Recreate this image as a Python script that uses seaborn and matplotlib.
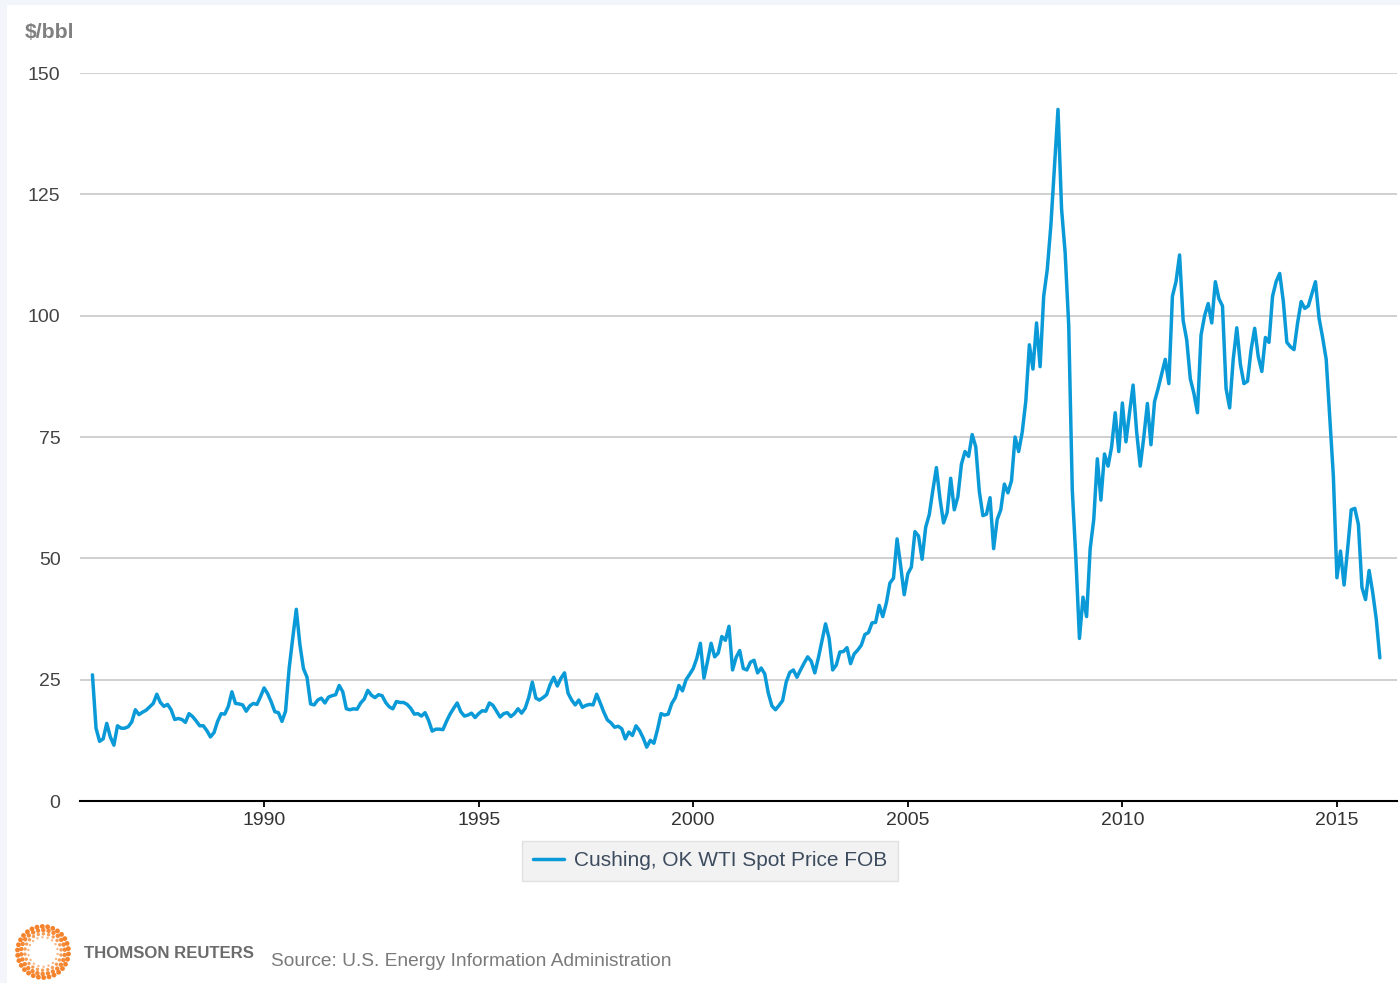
import numpy as np
import pandas as pd
import matplotlib
matplotlib.use("Agg")
import matplotlib.pyplot as plt
from matplotlib.patches import Rectangle
import seaborn as sns

# WTI spot price, $/bbl, one value per month (start of month), Jan 1986 .. Jan 2016
wti_1986_1990 = [
    26.0, 15.0, 12.3, 12.8, 16.0, 13.2, 11.5, 15.5, 15.0, 15.0, 15.3, 16.3,
    18.8, 17.8, 18.3, 18.7, 19.4, 20.1, 22.0, 20.3, 19.5, 19.9, 18.8, 16.8,
    17.0, 16.8, 16.2, 18.0, 17.4, 16.5, 15.5, 15.5, 14.5, 13.2, 14.1, 16.4,
    18.0, 17.9, 19.5, 22.5, 20.1, 20.0, 19.8, 18.5, 19.6, 20.1, 19.9, 21.5,
    23.3, 22.1, 20.4, 18.4, 18.2, 16.4, 18.5, 27.3, 33.5, 39.5, 32.3, 27.3,
]
wti_1991_1995 = [
    25.5, 20.0, 19.8, 20.8, 21.2, 20.2, 21.4, 21.7, 21.9, 23.8, 22.5, 19.0,
    18.8, 19.0, 18.9, 20.2, 21.0, 22.8, 21.8, 21.3, 21.9, 21.7, 20.3, 19.4,
    19.0, 20.5, 20.3, 20.3, 19.9, 19.1, 17.9, 18.0, 17.5, 18.2, 16.6, 14.4,
    14.8, 14.8, 14.7, 16.4, 17.9, 19.1, 20.2, 18.4, 17.5, 17.7, 18.1, 17.2,
    18.0, 18.6, 18.5, 20.2, 19.7, 18.5, 17.3, 18.0, 18.2, 17.4, 18.0, 19.0,
]
wti_1996_2000 = [
    18.1, 19.1, 21.3, 24.5, 21.2, 20.8, 21.3, 21.9, 24.0, 25.5, 23.7, 25.3,
    26.4, 22.2, 20.8, 19.8, 20.8, 19.3, 19.7, 19.9, 19.8, 22.0, 20.2, 18.3,
    16.7, 16.1, 15.2, 15.4, 14.9, 12.8, 14.2, 13.5, 15.5, 14.5, 13.0, 11.1,
    12.5, 11.9, 14.7, 18.0, 17.7, 17.9, 20.1, 21.3, 23.8, 22.7, 25.0, 26.1,
    27.3, 29.4, 32.5, 25.3, 28.8, 32.5, 29.7, 30.5, 33.9, 33.1, 36.0, 27.0,
]
wti_2001_2005 = [
    29.6, 31.0, 27.3, 27.0, 28.6, 29.0, 26.4, 27.4, 26.2, 22.2, 19.6, 18.8,
    19.7, 20.7, 24.5, 26.5, 27.0, 25.5, 27.0, 28.4, 29.7, 28.8, 26.4, 29.5,
    33.0, 36.5, 33.5, 27.0, 28.0, 30.7, 30.8, 31.6, 28.3, 30.3, 31.1, 32.1,
    34.3, 34.7, 36.7, 36.8, 40.3, 38.0, 40.8, 44.9, 45.9, 54.0, 48.5, 42.5,
    46.8, 48.2, 55.5, 54.6, 49.8, 56.4, 59.0, 64.0, 68.7, 62.3, 57.3, 59.4,
]
wti_2006_2010 = [
    66.5, 60.0, 62.7, 69.4, 72.0, 71.0, 75.5, 73.0, 63.8, 58.8, 59.1, 62.5,
    52.0, 58.0, 60.0, 65.3, 63.5, 66.0, 75.0, 72.0, 76.0, 82.4, 94.0, 89.0,
    98.5, 89.5, 104.0, 109.5, 118.5, 130.5, 142.5, 122.0, 113.0, 98.0, 64.0, 50.0,
    33.5, 42.0, 38.0, 52.0, 58.0, 70.5, 62.0, 71.5, 69.0, 73.0, 80.0, 72.0,
    82.0, 74.0, 80.0, 85.7, 76.0, 69.0, 75.0, 81.9, 73.4, 82.3, 85.0, 88.0,
]
wti_2011_2016 = [
    91.0, 86.0, 104.0, 107.0, 112.5, 99.0, 95.0, 87.0, 84.0, 80.0, 96.0, 100.0,
    102.5, 98.5, 107.0, 103.5, 102.0, 85.0, 81.0, 91.0, 97.5, 90.0, 86.0, 86.5,
    93.0, 97.4, 91.6, 88.5, 95.5, 94.5, 104.0, 107.0, 108.7, 103.0, 94.5, 93.6,
    93.0, 98.5, 102.9, 101.5, 102.0, 104.5, 107.0, 99.5, 95.5, 91.0, 79.0, 67.0,
    46.0, 51.5, 44.5, 52.0, 60.0, 60.3, 57.0, 44.0, 41.5, 47.5, 43.0, 37.5,
    29.5,
]

year_ticks = [1990, 1995, 2000, 2005, 2010, 2015]
price_ticks = [0, 25, 50, 75, 100, 125, 150]
series_name = "Cushing, OK WTI Spot Price FOB"

prices = (wti_1986_1990 + wti_1991_1995 + wti_1996_2000
          + wti_2001_2005 + wti_2006_2010 + wti_2011_2016)
dates = pd.date_range("1986-01-01", periods=len(prices), freq="MS")
df = pd.DataFrame({"year": dates.year + (dates.month - 1) / 12.0, "price": prices})

sns.set_theme(style="white")
plt.rcParams["font.family"] = ["Liberation Sans", "DejaVu Sans"]

W, H = 1400, 983
fig = plt.figure(figsize=(W / 100, H / 100), dpi=100, facecolor="#f2f5f9")
fig.patches.append(Rectangle((7 / W, 0), 1, 1 - 5 / H, transform=fig.transFigure,
                             facecolor="white", edgecolor="none", zorder=-10))

ax = fig.add_axes([80 / W, 1 - 801 / H, (1397 - 80) / W, (801 - 73) / H])
ax.set_facecolor("none")

sns.lineplot(data=df, x="year", y="price", ax=ax, color="#0a9ad8",
             linewidth=2.5, label=series_name, zorder=3)

ax.set_xlim(1985.71, 2016.40)
ax.set_ylim(0, 150)
ax.set_xticks(year_ticks)
ax.set_yticks(price_ticks)
ax.set_xlabel("")
ax.set_ylabel("")

for v in price_ticks[1:]:
    ax.axhline(v, color="#c8c8c8", linewidth=1.2, zorder=1)

for s in ["top", "right", "left"]:
    ax.spines[s].set_visible(False)
ax.spines["bottom"].set_color("black")
ax.spines["bottom"].set_linewidth(1.5)
ax.spines["bottom"].set_zorder(4)

ax.tick_params(axis="x", direction="out", length=4, width=1.3, color="black",
               labelsize=14, labelcolor="#333333", pad=4, bottom=True)
ax.tick_params(axis="y", length=0, labelsize=14, labelcolor="#444444", pad=14)

fig.text(25 / W, 1 - 33 / H, "$/bbl", fontsize=15.3, fontweight="bold",
         color="#808080", ha="left", va="center")

leg = ax.legend(loc="center", bbox_to_anchor=(710 / W, 1 - 861 / H),
                bbox_transform=fig.transFigure, frameon=True, fancybox=False,
                fontsize=15, handlelength=1.5, handletextpad=0.5,
                borderpad=0.5, labelcolor="#3d4b5e")
leg.get_frame().set_facecolor("#efefef")
leg.get_frame().set_edgecolor("#dcdcdc")
leg.get_frame().set_linewidth(1.0)

# Thomson Reuters logo: rings of orange dots around a hollow centre
lax = fig.add_axes([14 / W, 1 - 981 / H, 58 / W, 58 / H])
lax.set_xlim(-1.1, 1.1)
lax.set_ylim(-1.1, 1.1)
lax.set_aspect("equal")
lax.axis("off")
for r, n, s, al in [(0.97, 30, 12, 0.95), (0.83, 26, 10, 0.9),
                    (0.69, 22, 6, 0.75), (0.56, 18, 3, 0.55)]:
    a = np.linspace(0, 2 * np.pi, n, endpoint=False) + r
    lax.scatter(r * np.cos(a), r * np.sin(a), s=s, color="#f47c20",
                edgecolors="none", alpha=al)

fig.text(84 / W, 1 - 953 / H, "THOMSON REUTERS", fontsize=12.1, fontweight="bold",
         color="#6b6b6b", ha="left", va="center")
fig.text(271 / W, 1 - 961 / H, "Source: U.S. Energy Information Administration",
         fontsize=13.8, color="#7a7a7a", ha="left", va="center")

fig.savefig("out.png", dpi=100, facecolor=fig.get_facecolor())
